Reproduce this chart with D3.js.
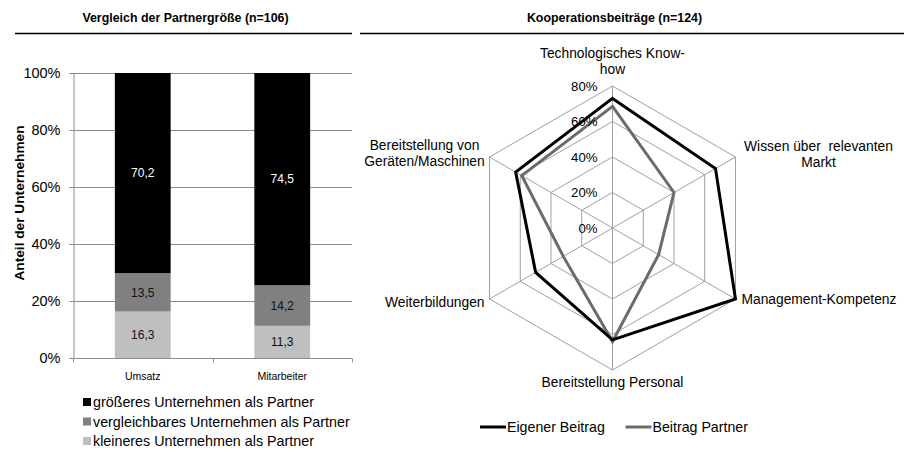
<!DOCTYPE html>
<html>
<head>
<meta charset="utf-8">
<script src="https://cdn.jsdelivr.net/npm/d3@7"></script>
<style>
  body { margin: 0; background: #fff; }
  svg { font-family: "Liberation Sans", Arial, sans-serif; display: block; }
  text { white-space: pre; }
</style>
</head>
<body>
<svg id="chart" width="904" height="453"></svg>
<script>
// data: stacked bars (percent)
var barCategories = ['Umsatz', 'Mitarbeiter'];
var seriesNames = ['kleineres Unternehmen als Partner', 'vergleichbares Unternehmen als Partner', 'größeres Unternehmen als Partner'];
var kleiner = [16.3, 11.3];
var vergleichbar = [13.5, 14.2];
var groesser = [70.2, 74.5];
var yTicks = [0, 0.2, 0.4, 0.6, 0.8, 1];

// data: radar (percent)
var radarAxes = [
  ['Technologisches Know-', 'how'],
  ['Wissen über  relevanten', 'Markt'],
  ['Management-Kompetenz'],
  ['Bereitstellung Personal'],
  ['Weiterbildungen'],
  ['Bereitstellung von', 'Geräten/Maschinen']
];
var eigenerBeitrag = [73, 67, 80, 63, 50, 63];
var beitragPartner = [68.5, 40, 30, 64, 32, 59];
var radarTicks = [0, 20, 40, 60, 80];

var svg = d3.select('#chart');

// ---------- titles ----------
svg.append('text').attr('x', 185.5).attr('y', 22).attr('text-anchor', 'middle')
  .attr('font-size', 12.4).attr('font-weight', 'bold').text('Vergleich der Partnergröße (n=106)');
svg.append('line').attr('x1', 15).attr('x2', 352).attr('y1', 33.5).attr('y2', 33.5)
  .attr('stroke', '#000').attr('stroke-width', 1.3);
svg.append('text').attr('x', 614.5).attr('y', 22).attr('text-anchor', 'middle')
  .attr('font-size', 12.4).attr('font-weight', 'bold').text('Kooperationsbeiträge (n=124)');
svg.append('line').attr('x1', 360).attr('x2', 904).attr('y1', 33.5).attr('y2', 33.5)
  .attr('stroke', '#000').attr('stroke-width', 1.3);

// ---------- stacked bar chart ----------
var colors = ['#bfbfbf', '#808080', '#000000'];
var labelColors = ['#111', '#111', '#fff'];

var x = d3.scaleBand().domain(barCategories).range([73, 352])
  .paddingInner(0.6).paddingOuter(0.3);
var y = d3.scaleLinear().domain([0, 1]).range([358, 73]);

var rows = barCategories.map(function(c, i) {
  return { cat: c, k: kleiner[i], v: vergleichbar[i], g: groesser[i] };
});
var stacked = d3.stack().keys(['k', 'v', 'g'])(rows);

var barG = svg.append('g');

// gridlines
barG.selectAll('line.grid').data(yTicks.slice(1)).enter().append('line')
  .attr('x1', 73).attr('x2', 352)
  .attr('y1', function(d) { return Math.round(y(d)) + 0.5; })
  .attr('y2', function(d) { return Math.round(y(d)) + 0.5; })
  .attr('stroke', '#8c8c8c').attr('stroke-width', 1);

// y axis
var yAxis = d3.axisLeft(y).tickValues(yTicks).tickSize(4).tickPadding(9)
  .tickFormat(d3.format('.0%'));
var yAxisG = barG.append('g').attr('transform', 'translate(73.5,0)').call(yAxis);
yAxisG.select('.domain').attr('stroke', '#8c8c8c');
yAxisG.selectAll('.tick line').attr('stroke', '#8c8c8c');
yAxisG.selectAll('.tick text').attr('font-size', 14.5).attr('fill', '#000')
  .attr('font-family', '"Liberation Sans", Arial, sans-serif');

// bars
var layer = barG.selectAll('g.layer').data(stacked).enter().append('g')
  .attr('class', 'layer').attr('fill', function(d, i) { return colors[i]; });
layer.selectAll('rect').data(function(d) { return d; }).enter().append('rect')
  .attr('x', function(d) { return x(d.data.cat); })
  .attr('width', x.bandwidth())
  .attr('y', function(d) { return y(d[1] / 100); })
  .attr('height', function(d) { return y(d[0] / 100) - y(d[1] / 100); });

// segment labels
stacked.forEach(function(s, si) {
  barG.selectAll('text.seg' + si).data(s).enter().append('text')
    .attr('x', function(d) { return x(d.data.cat) + x.bandwidth() / 2; })
    .attr('y', function(d) { return y((d[0] + d[1]) / 200); })
    .attr('dy', '0.35em')
    .attr('text-anchor', 'middle')
    .attr('font-size', 12)
    .attr('fill', labelColors[si])
    .text(function(d) { return d3.format('.1f')(d[1] - d[0]).replace('.', ','); });
});

// x axis
var xAxisG = barG.append('g').attr('transform', 'translate(0,' + (y(0) + 0.5) + ')');
xAxisG.append('line').attr('x1', 73).attr('x2', 352).attr('stroke', '#8c8c8c');
xAxisG.selectAll('line.tk').data(d3.range(barCategories.length + 1)).enter().append('line')
  .attr('x1', function(i) { return Math.round(73 + i * x.step()) + 0.5; })
  .attr('x2', function(i) { return Math.round(73 + i * x.step()) + 0.5; })
  .attr('y1', 0).attr('y2', 4).attr('stroke', '#8c8c8c');
xAxisG.selectAll('text').data(barCategories).enter().append('text')
  .attr('x', function(d) { return x(d) + x.bandwidth() / 2; })
  .attr('y', 21).attr('text-anchor', 'middle').attr('font-size', 10.5)
  .text(function(d) { return d; });

// y axis title
svg.append('text').attr('transform', 'translate(24,203) rotate(-90)')
  .attr('text-anchor', 'middle').attr('font-size', 13.7).attr('font-weight', 'bold')
  .text('Anteil der Unternehmen');

// legend
var legendOrder = [2, 1, 0];
var legend = svg.append('g').selectAll('g').data(legendOrder).enter().append('g')
  .attr('transform', function(d, i) { return 'translate(83,' + (402 + i * 19.5) + ')'; });
legend.append('rect').attr('x', 0).attr('y', -4).attr('width', 8).attr('height', 8)
  .attr('fill', function(d) { return colors[d]; });
legend.append('text').attr('x', 10).attr('dy', '0.35em').attr('font-size', 14.3)
  .text(function(d) { return seriesNames[d]; });

// ---------- radar chart ----------
var cx = 612.5, cy = 228;
var r = d3.scaleLinear().domain([0, 80]).range([0, 142]);
var n = radarAxes.length;
function angle(i) { return -Math.PI / 2 + i * 2 * Math.PI / n; }
function pt(i, v) { return [cx + r(v) * Math.cos(angle(i)), cy + r(v) * Math.sin(angle(i))]; }

var radarG = svg.append('g');

// rings
radarG.selectAll('path.ring').data(radarTicks.slice(1)).enter().append('path')
  .attr('d', function(t) { return d3.line()(d3.range(n).map(function(i) { return pt(i, t); })) + 'Z'; })
  .attr('fill', 'none').attr('stroke', '#a0a0a0').attr('stroke-width', 1);

// spokes
radarG.selectAll('line.spoke').data(d3.range(n)).enter().append('line')
  .attr('x1', cx).attr('y1', cy)
  .attr('x2', function(i) { return pt(i, 80)[0]; })
  .attr('y2', function(i) { return pt(i, 80)[1]; })
  .attr('stroke', '#a0a0a0').attr('stroke-width', 1);

// series
var radarSeries = [
  { name: 'Eigener Beitrag', values: eigenerBeitrag, color: '#000000' },
  { name: 'Beitrag Partner', values: beitragPartner, color: '#6b6b6b' }
];
radarG.selectAll('path.series').data(radarSeries.slice().reverse()).enter().append('path')
  .attr('d', function(s) { return d3.line()(s.values.map(function(v, i) { return pt(i, v); })) + 'Z'; })
  .attr('fill', 'none').attr('stroke', function(s) { return s.color; })
  .attr('stroke-width', 3).attr('stroke-linejoin', 'miter');

// ring labels
radarG.selectAll('text.rl').data(radarTicks).enter().append('text')
  .attr('x', cx - 15).attr('y', function(t) { return cy - r(t); })
  .attr('dy', '0.35em').attr('text-anchor', 'end').attr('font-size', 13.2)
  .text(function(t) { return t + '%'; });

// axis labels (offsets from the outer vertex)
var labelPos = [
  { dx: 0, dy: -33, anchor: 'middle' },
  { dx: 83, dy: -11, anchor: 'middle' },
  { dx: 6, dy: 0, anchor: 'start' },
  { dx: 0, dy: 12, anchor: 'middle' },
  { dx: -5, dy: 3, anchor: 'end' },
  { dx: -65, dy: -12, anchor: 'middle' }
];
radarAxes.forEach(function(lines, i) {
  var p = pt(i, 80), lp = labelPos[i];
  var t = radarG.append('text').attr('text-anchor', lp.anchor).attr('font-size', 13.8);
  lines.forEach(function(line, j) {
    t.append('tspan').attr('x', p[0] + lp.dx).attr('y', p[1] + lp.dy + j * 16.5)
      .attr('dy', '0.35em').text(line);
  });
});

// radar legend
var rLegend = svg.append('g').selectAll('g').data(radarSeries).enter().append('g')
  .attr('transform', function(d, i) { return 'translate(' + (480 + i * 145.5) + ',427)'; });
rLegend.append('line').attr('x1', 0).attr('x2', 26).attr('stroke', function(d) { return d.color; })
  .attr('stroke-width', 3);
rLegend.append('text').attr('x', 27).attr('dy', '0.35em').attr('font-size', 14.2)
  .text(function(d) { return d.name; });
</script>
</body>
</html>
